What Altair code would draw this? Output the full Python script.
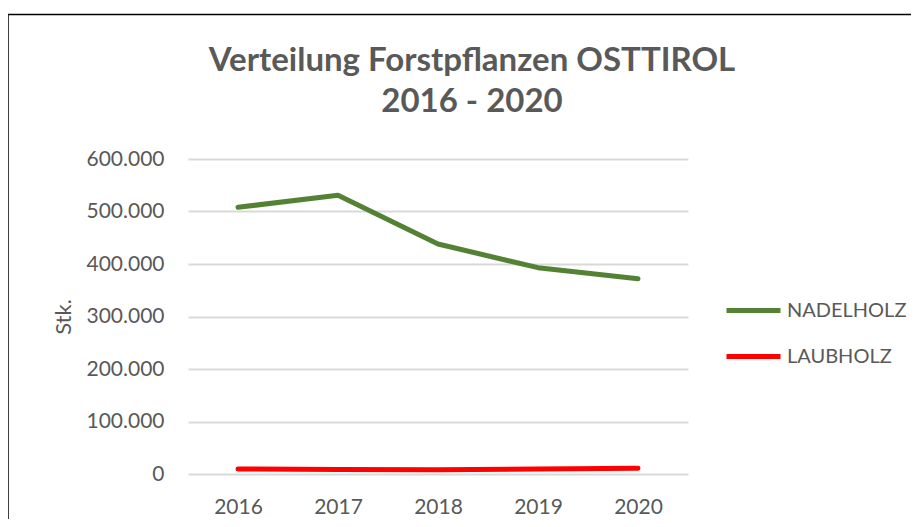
import altair as alt
import pandas as pd

years = ["2016", "2017", "2018", "2019", "2020"]
nadelholz = [508000, 531000, 438000, 393000, 372000]
laubholz = [9500, 8500, 8000, 9500, 11000]
series_names = ["NADELHOLZ", "LAUBHOLZ"]
series_colors = ["#548235", "#ff0000"]
y_ticks = [0, 100000, 200000, 300000, 400000, 500000, 600000]
title_lines = ["Verteilung Forstpflanzen OSTTIROL", "2016 - 2020"]

rows = []
for name, vals in zip(series_names, [nadelholz, laubholz]):
    for yr, v in zip(years, vals):
        rows.append({"Jahr": yr, "Wert": v, "Serie": name})
df = pd.DataFrame(rows)

FONT = "Lato"
GREY = "#595959"

lines = alt.Chart(df).mark_line(strokeWidth=5, strokeCap="round", strokeJoin="round").encode(
    x=alt.X("Jahr:O", sort=years,
            scale=alt.Scale(paddingInner=0, paddingOuter=0.5),
            axis=alt.Axis(title=None, labelAngle=0, domain=False, ticks=False,
                          labelFontSize=21, labelColor=GREY, labelFont=FONT,
                          labelPadding=22, grid=False)),
    y=alt.Y("Wert:Q", scale=alt.Scale(domain=[0, 600000], nice=False),
            axis=alt.Axis(title="Stk.", values=y_ticks, domain=False, ticks=False,
                          labelExpr="replace(format(datum.value, ','), ',', '.')",
                          labelFontSize=21, labelColor=GREY, labelFont=FONT,
                          labelPadding=24, gridColor="#d9d9d9", gridWidth=2,
                          titleFontSize=22, titleColor=GREY, titleFont=FONT,
                          titleFontWeight="normal", titlePadding=10)),
    color=alt.Color("Serie:N", sort=series_names,
                    scale=alt.Scale(domain=series_names, range=series_colors),
                    legend=alt.Legend(title=None, orient="none", legendX=536, legendY=122,
                                      symbolType="stroke", symbolSize=2916,
                                      symbolStrokeWidth=5, labelFontSize=20,
                                      labelColor=GREY, labelFont=FONT,
                                      rowPadding=6, labelOffset=4)),
)

border = alt.Chart(pd.DataFrame({"a": [0]})).mark_rect(
    fill=None, stroke="#000000", strokeWidth=1.5, clip=False
).encode(
    x=alt.value(-180), x2=alt.value(760),
    y=alt.value(-144.5), y2=alt.value(400),
)

title_df = pd.DataFrame({"t": title_lines, "i": [0, 1]})
title_marks = alt.Chart(title_df).mark_text(
    font=FONT, fontSize=33, fontWeight="bold", color=GREY,
    align="center", baseline="alphabetic", clip=False
).encode(
    text="t:N",
    x=alt.value(284),
    y=alt.Y("i:Q", scale=alt.Scale(domain=[0, 1], range=[-88, -47]), axis=None),
)

chart = alt.layer(border, lines, title_marks).resolve_scale(y="independent").properties(
    width=500, height=315,
    background="white",
    autosize=alt.AutoSizeParams(type="none"),
    padding={"left": 180, "top": 151, "right": 223, "bottom": 45},
).configure_view(stroke="transparent", strokeWidth=0)

chart.save("out.html", embed_options={"renderer": "svg", "actions": False})
